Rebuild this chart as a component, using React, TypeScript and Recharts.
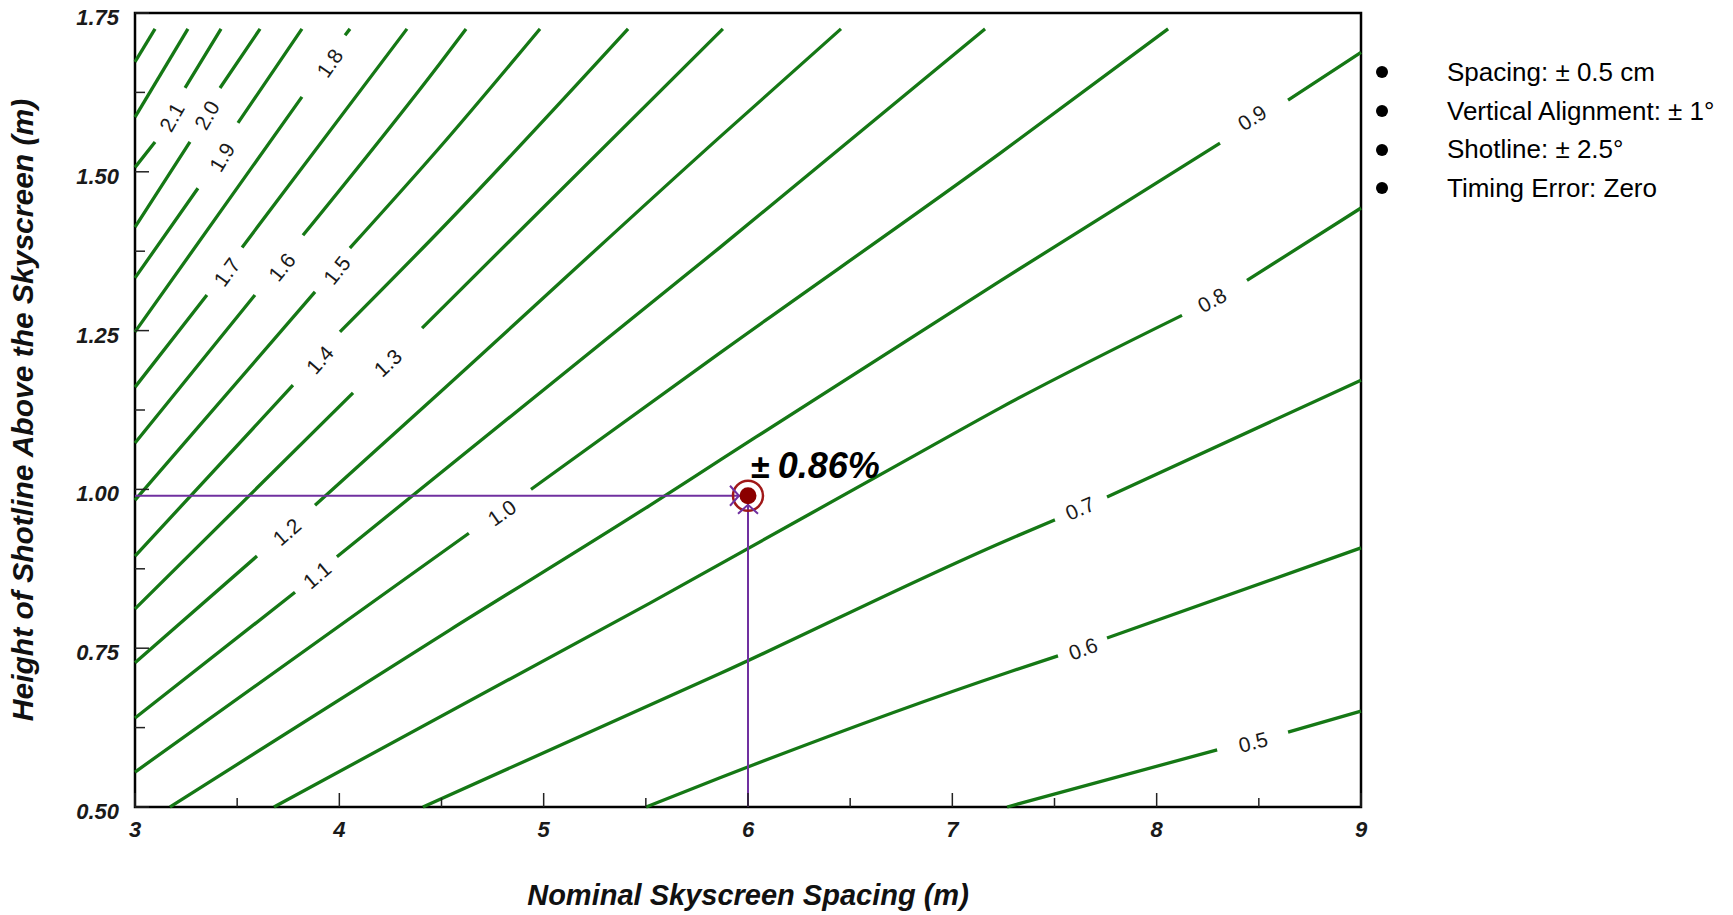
import React from "react";
import {
  LineChart,
  Line,
  XAxis,
  YAxis,
  ReferenceArea,
  ReferenceDot,
  Label,
} from "recharts";

type P = [number, number] | null;

// contour lines; null marks the gap where the label sits
const c05: P[] = [[7.268, 0.5], [8.296, 0.59], null, [8.643, 0.618], [9, 0.651]];
const c06: P[] = [[5.501, 0.5], [5.863, 0.546], [7.282, 0.713], [7.517, 0.738], null, [7.757, 0.766], [9, 0.908]];
const c07: P[] = [[4.409, 0.5], [5.863, 0.71], [7.282, 0.922], [7.502, 0.952], null, [7.757, 0.988], [9, 1.172]];
const c08: P[] = [[3.68, 0.5], [5.52, 0.821], [6.891, 1.067], [7.233, 1.128], [8.124, 1.274], null, [8.442, 1.329], [9, 1.443]];
const c09: P[] = [[3.171, 0.5], [4.542, 0.779], [5.52, 0.975], [5.863, 1.046], [7.233, 1.328], [8.31, 1.545], null, [8.643, 1.613], [9, 1.688]];
const c10: P[] = [[3, 0.555], [4.634, 0.931], null, [4.938, 1.0], [5.863, 1.215], [7.233, 1.529], [8.056, 1.725]];
const c11: P[] = [[3, 0.64], [3.783, 0.838], null, [3.988, 0.894], [5.863, 1.381], [7.16, 1.725]];
const c12: P[] = [[3, 0.727], [3.597, 0.895], null, [3.881, 0.975], [4.493, 1.153], [5.863, 1.555], [6.455, 1.725]];
const c13: P[] = [[3, 0.812], [4.067, 1.152], null, [4.405, 1.254], [5.877, 1.725]];
const c14: P[] = [[3, 0.895], [3.773, 1.164], null, [4.003, 1.248], [4.493, 1.408], [5.413, 1.725]];
const c15: P[] = [[3, 0.983], [3.881, 1.311], null, [4.052, 1.38], [4.493, 1.539], [4.982, 1.725]];
const c16: P[] = [[3, 1.073], [3.587, 1.306], null, [3.822, 1.4], [4.493, 1.671], [4.62, 1.725]];
const c17: P[] = [[3, 1.161], [3.352, 1.306], null, [3.524, 1.381], [4.331, 1.725]];
const c18: P[] = [[3, 1.248], [3.817, 1.618], null, [4.028, 1.715], [4.052, 1.725]];
const c19: P[] = [[3, 1.333], [3.308, 1.474], null, [3.504, 1.577], [3.817, 1.725]];
const c20: P[] = [[3, 1.413], [3.269, 1.547], null, [3.416, 1.632], [3.612, 1.725]];
const c21: P[] = [[3, 1.507], [3.098, 1.547], null, [3.245, 1.632], [3.421, 1.725]];
const c22: P[] = [[3, 1.586], [3.259, 1.725]];
const c23: P[] = [[3, 1.673], [3.098, 1.725]];

const levels = [0.5, 0.6, 0.7, 0.8, 0.9, 1.0, 1.1, 1.2, 1.3, 1.4, 1.5, 1.6, 1.7, 1.8, 1.9, 2.0, 2.1, 2.2, 2.3];
const contours = [c05, c06, c07, c08, c09, c10, c11, c12, c13, c14, c15, c16, c17, c18, c19, c20, c21, c22, c23];

// label centres (in the gaps)
const labelLevels = [0.5, 0.6, 0.7, 0.8, 0.9, 1.0, 1.1, 1.2, 1.3, 1.4, 1.5, 1.6, 1.7, 1.8, 1.9, 2.0, 2.1];
const labelPos: [number, number][] = [
  [8.472, 0.602], [7.64, 0.749], [7.625, 0.97], [8.271, 1.298], [8.467, 1.585],
  [4.796, 0.963], [3.891, 0.865], [3.744, 0.933], [4.238, 1.199], [3.905, 1.204],
  [3.988, 1.345], [3.719, 1.35], [3.45, 1.342], [3.954, 1.671], [3.426, 1.523],
  [3.352, 1.589], [3.181, 1.586],
];

const xMajor = [3, 4, 5, 6, 7, 8, 9];
const xMinor = [3.5, 4.5, 5.5, 6.5, 7.5, 8.5];
const yMajor = [0.5, 0.75, 1.0, 1.25, 1.5, 1.75];
const yMinor = [0.625, 0.875, 1.125, 1.375, 1.625];

// design point
const pointX = 6;
const pointY = 0.99;
const pointErr = 0.86;
const guideH: [number, number][] = [[3, pointY], [pointX, pointY]];
const guideV: [number, number][] = [[pointX, 0.5], [pointX, pointY]];

const notes = [
  "Spacing: \u00b1 0.5 cm",
  "Vertical Alignment: \u00b1 1\u00b0",
  "Shotline: \u00b1 2.5\u00b0",
  "Timing Error: Zero",
];

const W = 1733;
const H = 915;
const M = { top: 13, right: 372, bottom: 0, left: 0 };
const Y_W = 135;
const X_H = 108;
const PLOT_W = W - M.left - M.right - Y_W;
const PLOT_H = H - M.top - M.bottom - X_H;
const PX_X = PLOT_W / 6;
const PX_Y = PLOT_H / 1.25;

const FONT = "Arial, 'Liberation Sans', sans-serif";
const GREEN = "#157815";
const PURPLE = "#7030a0";

const tickFont = {
  fontFamily: FONT,
  fontSize: 22,
  fontWeight: 700,
  fontStyle: "italic" as const,
  fill: "#1a1a1a",
};

const toRows = (pts: P[]) =>
  pts.map((p, i) => {
    if (p) return { x: p[0], y: p[1] as number | null };
    const a = pts[i - 1] as [number, number];
    const b = pts[i + 1] as [number, number];
    return { x: (a[0] + b[0]) / 2, y: null };
  });

const pairRows = (pts: [number, number][]) => pts.map(([x, y]) => ({ x, y }));

// screen angle of the contour across its label gap
function gapAngle(pts: P[]) {
  const i = pts.indexOf(null);
  const a = pts[i - 1] as [number, number];
  const b = pts[i + 1] as [number, number];
  return (-Math.atan2((b[1] - a[1]) * PX_Y, (b[0] - a[0]) * PX_X) * 180) / Math.PI;
}

function XTick(props: any) {
  const { x, y, payload } = props;
  const major = xMajor.includes(payload.value);
  return (
    <g>
      <line x1={x} x2={x} y1={y} y2={y - (major ? 14 : 9)} stroke="#222" strokeWidth={1.5} />
      {major && (
        <text x={x} y={y + 30} textAnchor="middle" style={tickFont}>
          {payload.value}
        </text>
      )}
    </g>
  );
}

function YTick(props: any) {
  const { x, y, payload } = props;
  const major = yMajor.includes(payload.value);
  return (
    <g>
      <line x1={x} x2={x + (major ? 14 : 10)} y1={y} y2={y} stroke="#222" strokeWidth={1.5} />
      {major && (
        <text x={x - 16} y={y + 4} dy="0.36em" textAnchor="end" style={tickFont}>
          {payload.value.toFixed(2)}
        </text>
      )}
    </g>
  );
}

function PointMark({ cx, cy }: { cx?: number; cy?: number }) {
  if (cx == null || cy == null) return null;
  const tipL = cx - 9;
  const tipB = cy + 9;
  return (
    <g>
      <circle cx={cx} cy={cy} r={15} fill="none" stroke="#a01818" strokeWidth={2.5} />
      <path
        d={`M${tipL - 9},${cy - 10} L${tipL},${cy} L${tipL - 9},${cy + 10}
            M${cx - 10},${tipB + 9} L${cx},${tipB} L${cx + 10},${tipB + 9}`}
        fill="none"
        stroke={PURPLE}
        strokeWidth={2}
      />
      <circle cx={cx} cy={cy} r={8.5} fill="#8b0000" />
      <text x={cx + 3} y={cy - 18} fontFamily={FONT} fontWeight={700} fill="#000">
        <tspan fontSize={34}>{"\u00b1"}</tspan>
        <tspan dx={8} fontSize={36} fontStyle="italic">
          {pointErr.toFixed(2)}%
        </tspan>
      </text>
    </g>
  );
}

export default function App() {
  return (
    <div style={{ position: "relative", width: W, height: H, background: "#fff" }}>
      <style>{"body{margin:0;overflow:hidden;background:#fff}"}</style>
      <LineChart width={W} height={H} margin={M}>
        <XAxis
          type="number"
          dataKey="x"
          domain={[3, 9]}
          ticks={[...xMajor, ...xMinor].sort((a, b) => a - b)}
          interval={0}
          tickSize={0}
          tickMargin={0}
          tickLine={false}
          axisLine={false}
          height={X_H}
          tick={(p: any) => <XTick {...p} />}
        >
          <Label
            value="Nominal Skyscreen Spacing (m)"
            position="insideBottom"
            offset={10}
            style={{ fontFamily: FONT, fontSize: 29, fontWeight: 700, fontStyle: "italic", fill: "#111" }}
          />
        </XAxis>
        <YAxis
          type="number"
          domain={[0.5, 1.75]}
          ticks={[...yMajor, ...yMinor].sort((a, b) => a - b)}
          interval={0}
          tickSize={0}
          tickMargin={0}
          tickLine={false}
          axisLine={false}
          width={Y_W}
          tick={(p: any) => <YTick {...p} />}
        >
          <Label
            value="Height of Shotline Above the Skyscreen (m)"
            angle={-90}
            position="insideLeft"
            offset={22}
            style={{
              textAnchor: "middle",
              fontFamily: FONT,
              fontSize: 30,
              fontWeight: 700,
              fontStyle: "italic",
              fill: "#111",
            }}
          />
        </YAxis>

        {contours.map((pts, i) => (
          <Line
            key={`c-${levels[i]}`}
            data={toRows(pts)}
            dataKey="y"
            type="monotone"
            stroke={GREEN}
            strokeWidth={3.3}
            dot={false}
            activeDot={false}
            connectNulls={false}
            isAnimationActive={false}
          />
        ))}

        <Line
          key="guide-h"
          data={pairRows(guideH)}
          dataKey="y"
          type="linear"
          stroke={PURPLE}
          strokeWidth={2}
          dot={false}
          activeDot={false}
          isAnimationActive={false}
        />
        <Line
          key="guide-v"
          data={pairRows(guideV)}
          dataKey="y"
          type="linear"
          stroke={PURPLE}
          strokeWidth={2}
          dot={false}
          activeDot={false}
          isAnimationActive={false}
        />

        <ReferenceArea
          x1={3}
          x2={9}
          y1={0.5}
          y2={1.75}
          fill="none"
          fillOpacity={0}
          stroke="#000"
          strokeWidth={2.5}
          ifOverflow="visible"
        />

        {labelLevels.map((lvl, i) => {
          const angle = gapAngle(contours[levels.indexOf(lvl)]);
          return (
            <ReferenceDot
              key={`lab-${lvl}`}
              x={labelPos[i][0]}
              y={labelPos[i][1]}
              r={0}
              ifOverflow="visible"
              shape={(p: any) => (
                <text
                  x={p.cx}
                  y={p.cy}
                  dy="0.35em"
                  textAnchor="middle"
                  transform={`rotate(${angle}, ${p.cx}, ${p.cy})`}
                  fontFamily={FONT}
                  fontSize={21}
                  fill="#1a1a1a"
                >
                  {lvl.toFixed(1)}
                </text>
              )}
            />
          );
        })}

        <ReferenceDot
          x={pointX}
          y={pointY}
          r={0}
          ifOverflow="visible"
          shape={(p: any) => <PointMark cx={p.cx} cy={p.cy} />}
        />
      </LineChart>

      <div
        style={{
          position: "absolute",
          left: 1376,
          top: 53,
          fontFamily: FONT,
          fontSize: 26,
          lineHeight: "38.7px",
          color: "#000",
        }}
      >
        {notes.map((n) => (
          <div key={n} style={{ display: "flex", alignItems: "center", whiteSpace: "nowrap" }}>
            <span
              style={{ width: 12, height: 12, borderRadius: 6, background: "#000", display: "inline-block" }}
            />
            <span style={{ marginLeft: 59 }}>{n}</span>
          </div>
        ))}
      </div>
    </div>
  );
}
